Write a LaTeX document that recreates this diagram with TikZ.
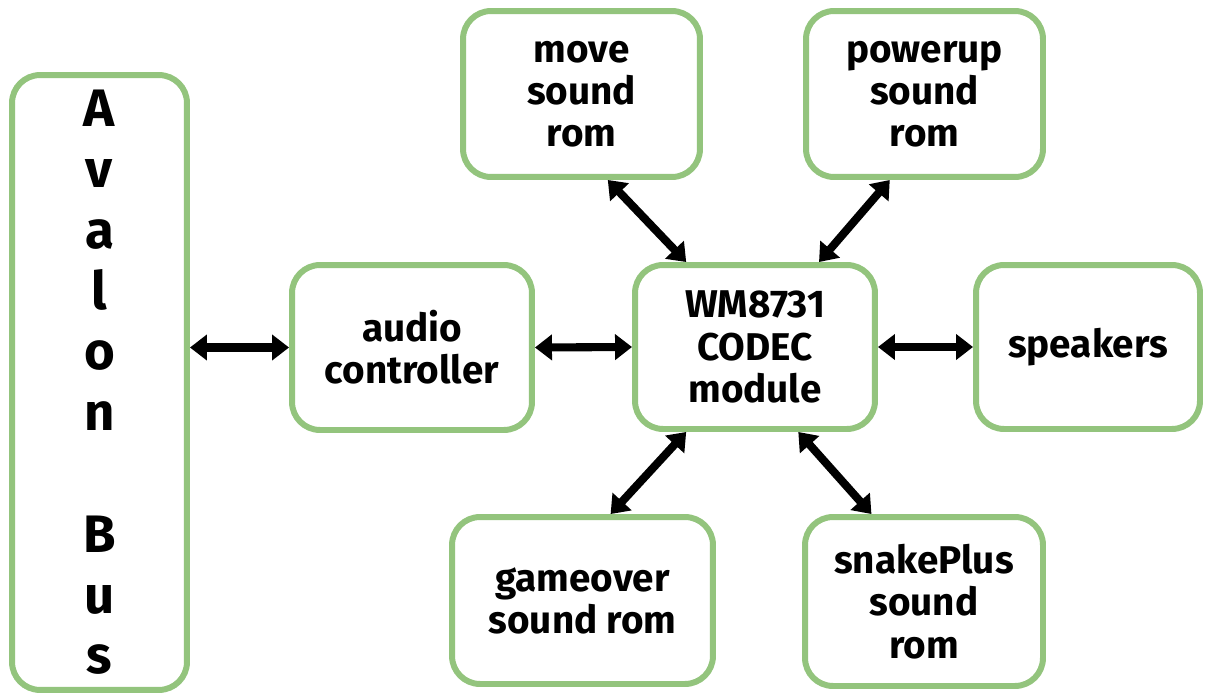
\documentclass[tikz,border=0pt]{standalone}
\usepackage{fontspec}
\setsansfont{Fira Sans}
\usetikzlibrary{arrows.meta}
\definecolor{BoxGreen}{HTML}{93C47D}
\tikzset{
  every node/.style={font=\sffamily\bfseries, text=black},
  block/.style={draw=BoxGreen, line width=3.4pt, rounded corners=0.56cm, fill=white,
                align=center, inner sep=2pt, font=\sffamily\bfseries\fontsize{22}{24}\selectfont},
  link/.style={{Triangle[length=0.34cm,width=0.5cm]}-{Triangle[length=0.34cm,width=0.5cm]},
               draw=black, line width=4.6pt},
}

\begin{document}
\begin{tikzpicture}[x=0.02cm,y=-0.02cm]
  \useasboundingbox (0,0) rectangle (1207,696);

  % Bus on the left
  \node[block, minimum width=3.5cm, minimum height=12.3cm,
        font=\sffamily\bfseries\fontsize{30}{34.6}\selectfont] (avalon) at (99.5,382.5)
        {A\\v\\a\\l\\o\\n\\\mbox{}\\B\\u\\s};

  % Middle row
  \node[block, minimum width=4.8cm, minimum height=3.3cm] (audio) at (412,347.5) {audio\\controller};
  \node[block, minimum width=4.8cm, minimum height=3.28cm] (codec) at (755,347) {WM8731\\CODEC\\module};
  \node[block, minimum width=4.48cm, minimum height=3.28cm] (speakers) at (1088,347) {speakers};

  % Sound roms above
  \node[block, minimum width=4.74cm, minimum height=3.32cm] (moverom) at (581.5,94) {move\\sound\\rom};
  \node[block, minimum width=4.74cm, minimum height=3.32cm] (poweruprom) at (924.5,94) {powerup\\sound\\rom};

  % Sound roms below
  \node[block, minimum width=5.22cm, minimum height=3.34cm] (gameoverrom) at (582.5,600.5) {gameover\\sound rom};
  \node[block, minimum width=4.76cm, minimum height=3.38cm] (snakerom) at (924,601.5) {snakePlus\\sound\\rom};

  % Links
  \draw[link] (audio.west -| avalon.east) -- (audio.west);
  \draw[link] (audio.east) -- (codec.west);
  \draw[link] (codec.east) -- (speakers.west);
  \draw[link] (moverom.287) -- (codec.129);
  \draw[link] (poweruprom.248) -- (codec.53);
  \draw[link] (codec.231) -- (gameoverrom.72);
  \draw[link] (codec.297) -- (snakerom.121);
\end{tikzpicture}
\end{document}
